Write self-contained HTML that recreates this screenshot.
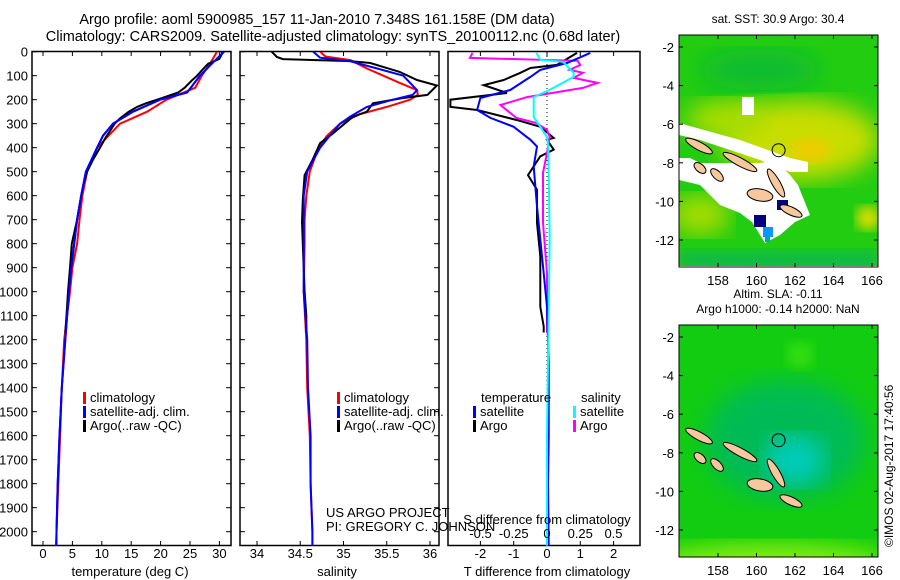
<!DOCTYPE html>
<html><head><meta charset="utf-8">
<style>
body{margin:0;background:#fff;}
svg{display:block;font-family:"Liberation Sans",sans-serif;}
text{font-size:13px;fill:#000;}
</style></head>
<body>
<svg id="fig" width="900" height="580" viewBox="0 0 900 580">
<defs>
<filter id="blur6"><feGaussianBlur stdDeviation="6"/></filter>
<filter id="blur12"><feGaussianBlur stdDeviation="12"/></filter>
<clipPath id="clipMap1"><rect x="679" y="35" width="199" height="231"/></clipPath>
<clipPath id="clipMap2"><rect x="679" y="325" width="199" height="232"/></clipPath>
<clipPath id="clipP1"><rect x="32" y="52" width="199" height="494"/></clipPath>
<clipPath id="clipP2"><rect x="240" y="52" width="199" height="494"/></clipPath>
<clipPath id="clipP3"><rect x="448" y="52" width="192" height="494"/></clipPath>
</defs>
<text x="317" y="24" text-anchor="middle" style="font-size:14.5px">Argo profile: aoml 5900985_157 11-Jan-2010 7.348S 161.158E (DM data)</text>
<text x="333" y="41" text-anchor="middle" style="font-size:14.5px">Climatology: CARS2009. Satellite-adjusted climatology: synTS_20100112.nc (0.68d later)</text>
<g id="g"></g>
</svg>
<script>
// ---------- data ----------
const depthTicks=[0,100,200,300,400,500,600,700,800,900,1000,1100,1200,1300,1400,1500,1600,1700,1800,1900,2000];
const tempTicks=[0,5,10,15,20,25,30];
const salTicks=[34,34.5,35,35.5,36];
const sdiffTicks=[-0.5,-0.25,0,0.25,0.5];
const sdiffLabels=["-0.5","-0.25","0","0.25","0.5"];
const tdiffTicks=[-2,-1,0,1,2];

const argoTDepth=[0,10,30,50,70,100,120,150,170,185,200,215,230,250,280,300,330,360,400,450,500,550,600,700,800,900,1000,1100,1170];
const argoT=[30.4,30.4,30.0,28.1,27.3,26.2,25.3,24.1,23.0,21.2,19.4,17.5,16.0,14.6,13.0,12.2,11.4,10.6,9.7,8.5,7.5,6.9,6.5,5.8,4.9,4.6,4.25,4.0,3.8];
const climTDepth=[0,50,100,150,200,250,300,400,500,600,700,800,900,1000,1200,1400,1600,1800,2000,2058];
const climT=[29.6,28.4,27.0,25.9,21.0,17.7,13.1,9.2,7.5,6.7,6.2,5.8,5.0,4.6,3.6,3.2,2.9,2.6,2.3,2.2];
const satTDepth=[0,50,100,170,200,250,300,350,400,500,600,700,800,900,1000,1200,1400,1600,1800,2000,2058];
const satT=[30.8,28.7,26.7,24.5,19.9,15.3,11.9,10.2,9.2,7.3,6.5,5.8,5.3,4.8,4.4,3.8,3.2,2.8,2.5,2.3,2.3];

const argoSDepth=[0,22,31,39,47,84,118,141,180,193,215,250,271,340,381,452,514,618,708,800,900,1000,1100,1170];
const argoS=[34.17,34.23,34.30,35.08,35.31,35.65,35.85,36.08,35.97,35.69,35.34,35.27,35.11,34.88,34.73,34.64,34.55,34.53,34.52,34.53,34.54,34.55,34.57,34.57];
const climSDepth=[0,20,35,70,100,130,160,180,200,230,260,300,350,400,500,600,700,800,1000,1200,1400,1600,1800,2000,2058];
const climS=[34.73,34.79,35.08,35.27,35.46,35.65,35.85,35.86,35.77,35.5,35.19,34.96,34.81,34.71,34.61,34.57,34.55,34.55,34.54,34.57,34.58,34.61,34.62,34.64,34.64];
const satSDepth=[0,25,40,70,100,160,180,200,230,270,300,350,400,500,600,1000,1200,1400,1600,1800,2000,2058];
const satS=[34.65,34.73,35.08,35.39,35.69,35.85,35.8,35.57,35.27,35.08,34.96,34.84,34.73,34.58,34.54,34.54,34.58,34.59,34.62,34.62,34.64,34.64];

const argoDTDepth=[5,55,68,88,118,139,172,200,230,243,285,313,359,367,408,436,514,575,713,853,1005,1063,1145,1170];
const argoDT=[0.9,0.3,-0.5,-0.8,-1.3,-1.9,-1.2,-2.9,-2.9,-2.1,-0.9,-0.2,0.2,0,0.2,-0.2,-0.57,-0.3,-0.3,-0.2,-0.2,-0.2,-0.1,-0.1];
const satDTDepth=[5,47,76,105,159,193,243,276,313,367,395,478,645,923,1063,1300,1600,1800,2058];
const satDT=[1.3,0.6,-0.2,-0.5,-1.1,-2.0,-2.1,-1.7,-1.0,-0.5,-0.3,-0.4,-0.3,-0.1,0,0.05,0.05,0.03,0.05];
const argoDSDepth=[5,26,38,55,76,88,109,130,151,189,222,276,297,326,355,422,505,713,922,1170];
const argoDS=[-0.56,-0.58,0.23,0.25,0.17,0.27,0.2,0.38,0.27,-0.15,-0.35,-0.23,-0.08,0,0.02,0,-0.03,-0.03,0,0];
const satDSDepth=[5,34,42,88,105,159,189,272,355,397,784,1200,1600,2058];
const satDS=[-0.08,-0.05,0.12,0.2,0.2,0.02,-0.1,-0.1,0,0.01,0.02,0.01,0.0,0.0];

// ---------- scales ----------
const yD=d=>51.7+d*0.24;
const xT=t=>43+t*5.88;
const xS=s=>257+(s-34)*86.5;
const xDT=t=>547+t*33.3;
const xDS=s=>547+s*133;
const NS="http://www.w3.org/2000/svg";
const G=document.getElementById('g');
function el(tag,attrs,parent,txt){const e=document.createElementNS(NS,tag);for(const k in attrs)e.setAttribute(k,attrs[k]);if(txt!==undefined)e.textContent=txt;(parent||G).appendChild(e);return e;}

function panel(x0,w,name){
  const r=el('rect',{x:x0,y:51.5,width:w,height:494,fill:'none',stroke:'#000','stroke-width':1.5});
  
  
  depthTicks.forEach(d=>{
    el('line',{x1:x0,x2:x0+5,y1:yD(d),y2:yD(d),stroke:'#000'});
    el('line',{x1:x0+w-5,x2:x0+w,y1:yD(d),y2:yD(d),stroke:'#000'});
  });
}
function xticks(vals,scale,labels,ly,name){
  vals.forEach((v,i)=>{
    const x=scale(v);
    el('line',{x1:x,x2:x,y1:545.5,y2:541,stroke:'#000'});
    el('line',{x1:x,x2:x,y1:51.5,y2:56,stroke:'#000'});
    if(labels){const t=el('text',{x:x,y:ly,'text-anchor':'middle'},G,labels[i]);
    
    }
  });
}
function line(ds,vs,xs,color,clip,name){
  const pts=ds.map((d,i)=>xs(vs[i]).toFixed(1)+','+yD(d).toFixed(1)).join(' ');
  const p=el('polyline',{points:pts,fill:'none',stroke:color,'stroke-width':2,'clip-path':'url(#'+clip+')'});
  
  
}
function legItem(x,y,color,label,name){
  el('rect',{x:x,y:y-10,width:3,height:12,fill:color});
  const t=el('text',{x:x+7,y:y},G,label);
  
  
}

depthTicks.forEach(d=>{
  const t=el('text',{x:28,y:yD(d)+5,'text-anchor':'end'},G,String(d));
  
  
});

panel(32,199,'temperature-panel');
xticks(tempTicks,xT,tempTicks.map(String),558,'temperature');
line(climTDepth,climT,xT,'#ff0000','clipP1','temperature-climatology-line');
line(satTDepth,satT,xT,'#0000ff','clipP1','temperature-satellite-line');
line(argoTDepth,argoT,xT,'#000000','clipP1','temperature-argo-line');
line(satTDepth,satT,xT,'#0000ff','clipP1','temperature-satellite-line-top');
let t=el('text',{x:130,y:576,'text-anchor':'middle'},G,'temperature (deg C)');

legItem(83,402,'#ff0000','climatology','legend-climatology');
legItem(83,416,'#0000ff','satellite-adj. clim.','legend-satellite-adj');
legItem(83,430,'#000000','Argo(..raw -QC)','legend-argo');

panel(240,199,'salinity-panel');
xticks(salTicks,xS,["34","34.5","35","35.5","36"],558,'salinity');
line(climSDepth,climS,xS,'#ff0000','clipP2','salinity-climatology-line');
line(argoSDepth,argoS,xS,'#000000','clipP2','salinity-argo-line');
line(satSDepth,satS,xS,'#0000ff','clipP2','salinity-satellite-line');
t=el('text',{x:337,y:576,'text-anchor':'middle'},G,'salinity');

legItem(337,402,'#ff0000','climatology','legend-climatology-2');
legItem(337,416,'#0000ff','satellite-adj. clim.','legend-satellite-adj-2');
legItem(337,430,'#000000','Argo(..raw -QC)','legend-argo-2');

el('rect',{x:448,y:51.5,width:192,height:494,fill:'none',stroke:'#000','stroke-width':1.5});
el('line',{x1:547,x2:547,y1:52,y2:545,stroke:'#000','stroke-dasharray':'1,3'});
xticks(tdiffTicks,xDT,tdiffTicks.map(String),558,'t-difference');
line(argoDTDepth,argoDT,xDT,'#000000','clipP3','t-diff-argo-line');
line(argoDSDepth,argoDS,xDS,'#ff00ff','clipP3','s-diff-argo-line');
line(satDTDepth,satDT,xDT,'#0000ff','clipP3','t-diff-satellite-line');
line(satDSDepth,satDS,xDS,'#00ffff','clipP3','s-diff-satellite-line');
sdiffTicks.forEach((v,i)=>{
  const tt=el('text',{x:xDS(v),y:538,'text-anchor':'middle'},G,sdiffLabels[i]);
  
  
});
t=el('text',{x:547,y:524,'text-anchor':'middle'},G,'S difference from climatology');

t=el('text',{x:547,y:576,'text-anchor':'middle'},G,'T difference from climatology');

t=el('text',{x:481,y:402},G,'temperature');
t=el('text',{x:581,y:402},G,'salinity');
legItem(473,416,'#0000ff','satellite','legend-t-satellite');
legItem(473,430,'#000000','Argo','legend-t-argo');
legItem(573,416,'#00ffff','satellite','legend-s-satellite');
legItem(573,430,'#ff00ff','Argo','legend-s-argo');

t=el('text',{x:326,y:517},G,'US ARGO PROJECT');
t=el('text',{x:326,y:531},G,'PI: GREGORY C. JOHNSON');

// ---------- maps ----------
const lonTicks=[158,160,162,164,166];
const latTicks=[-2,-4,-6,-8,-10,-12];
const xLon=l=>718+(l-158)*19.25;
const islands=[
 [699,146,15,4,28],[740,162,19,4,28],[776,183,4,16,-30],[760,195,13,6,10],[791,211,12,4,25],[700,168,7,4,40],[717,175,8,4,45]
];
function map(y0,clip,name,titleLines,isSST){
  const yLat=l=>y0+12+(-2-l)*19.3;
  const g=el('g',{'clip-path':'url(#'+clip+')'});
  
  
  const dy=y0-35;
  if(isSST){
    el('rect',{x:679,y:y0,width:199,height:232,fill:'#22cc11'},g);
    el('ellipse',{cx:800,cy:140+dy,rx:80,ry:40,fill:'#c8dd00',filter:'url(#blur12)'},g);
    el('ellipse',{cx:725,cy:120+dy,rx:40,ry:20,fill:'#aadd00',filter:'url(#blur12)'},g);
    el('ellipse',{cx:810,cy:150+dy,rx:20,ry:12,fill:'#eecc00',filter:'url(#blur6)'},g);
    el('ellipse',{cx:700,cy:215+dy,rx:30,ry:20,fill:'#aadd00',filter:'url(#blur12)'},g);
    el('ellipse',{cx:868,cy:218+dy,rx:12,ry:12,fill:'#dddd00',filter:'url(#blur6)'},g);
    el('ellipse',{cx:760,cy:70+dy,rx:60,ry:20,fill:'#11bb33',filter:'url(#blur12)'},g);
    el('rect',{x:679,y:250+dy,width:199,height:20,fill:'#11bb44',filter:'url(#blur6)'},g);
    el('polygon',{points:'679,158 690,158 700,163 760,163 775,160 790,175 798,185 802,195 810,215 795,222 780,235 765,243 752,222 740,213 720,205 700,185 679,180',fill:'#fff'},g);
    el('polygon',{points:'679,123 740,140 790,158 808,162 808,172 790,172 760,160 700,140 679,135',fill:'#fff'},g);
    el('rect',{x:742,y:97,width:12,height:18,fill:'#fff'},g);
    el('rect',{x:777,y:200,width:11,height:10,fill:'#000080'},g);
    el('rect',{x:754,y:215,width:12,height:12,fill:'#000080'},g);
    el('rect',{x:763,y:227,width:10,height:10,fill:'#0099ff'},g);
    el('rect',{x:765,y:237,width:5,height:5,fill:'#00aaaa'},g);
  } else {
    el('rect',{x:679,y:y0,width:199,height:232,fill:'#11cc11'},g);
    el('ellipse',{cx:785,cy:150+dy,rx:80,ry:60,fill:'#00bb55',filter:'url(#blur12)'},g);
    el('ellipse',{cx:795,cy:170+dy,rx:30,ry:25,fill:'#00ccbb',filter:'url(#blur12)'},g);
    el('ellipse',{cx:800,cy:65+dy,rx:14,ry:14,fill:'#33dd11',filter:'url(#blur6)'},g);
    el('ellipse',{cx:770,cy:275+dy,rx:120,ry:22,fill:'#88ee11',filter:'url(#blur12)'},g);
  }
  islands.forEach(s=>{
    el('ellipse',{cx:s[0],cy:s[1]+dy,rx:s[2],ry:s[3],transform:'rotate('+s[4]+' '+s[0]+' '+(s[1]+dy)+')',fill:'#f7c89c',stroke:'#000','stroke-width':1},g);
  });
  const c=el('circle',{cx:778.6,cy:yLat(-7.348),r:6.5,fill:'none',stroke:'#000','stroke-width':1},G);
  
  
  const fr=el('rect',{x:679,y:y0,width:199,height:232,fill:'none',stroke:'#000','stroke-width':1});
  
  
  lonTicks.forEach(l=>{
    const x=xLon(l);
    el('line',{x1:x,x2:x,y1:y0,y2:y0+4,stroke:'#000'});
    el('line',{x1:x,x2:x,y1:y0+232,y2:y0+228,stroke:'#000'});
    const tt=el('text',{x:x,y:y0+250,'text-anchor':'middle'},G,String(l));
    
    
  });
  latTicks.forEach(l=>{
    const y=yLat(l);
    el('line',{x1:679,x2:683,y1:y,y2:y,stroke:'#000'});
    el('line',{x1:874,x2:878,y1:y,y2:y,stroke:'#000'});
    const tt=el('text',{x:674,y:y+5,'text-anchor':'end'},G,String(l));
    
    
  });
  const n=titleLines.length;
  titleLines.forEach((s,i)=>{
    const tt=el('text',{x:778,y:y0-12-(n-1-i)*15,'text-anchor':'middle',style:'font-size:12px'},G,s);
    
    
  });
}
map(35,'clipMap1','sst-map',['sat. SST: 30.9 Argo: 30.4'],true);
map(325,'clipMap2','sla-map',['Altim. SLA: -0.11','Argo h1000: -0.14 h2000: NaN'],false);
t=el('text',{x:0,y:0,transform:'translate(893,547) rotate(-90)',style:'font-size:12px'},G,'©IMOS 02-Aug-2017 17:40:56');

</script>
</body></html>
